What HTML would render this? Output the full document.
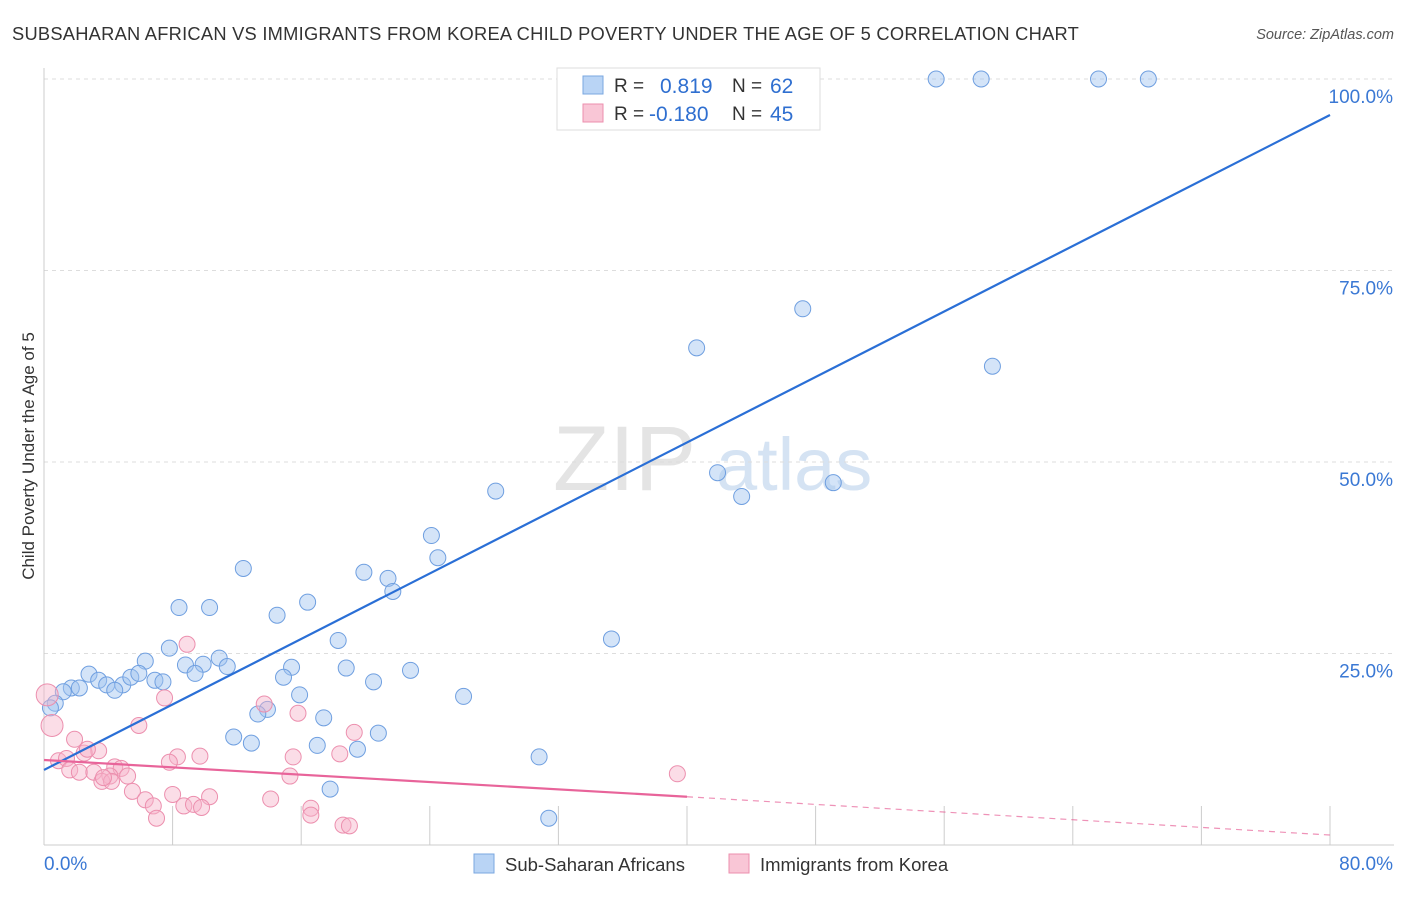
<!DOCTYPE html>
<html><head><meta charset="utf-8">
<style>
body{margin:0;background:#fff;font-family:"Liberation Sans",sans-serif;}
svg text{font-family:"Liberation Sans",sans-serif;}
</style></head>
<body>
<svg id="chart" width="1406" height="892" xmlns="http://www.w3.org/2000/svg">
<text x="12" y="40" font-size="18.3" fill="#333" letter-spacing="0.25">SUBSAHARAN AFRICAN VS IMMIGRANTS FROM KOREA CHILD POVERTY UNDER THE AGE OF 5 CORRELATION CHART</text>
<text x="1394" y="39" font-size="14.5" fill="#555" text-anchor="end" font-style="italic">Source: ZipAtlas.com</text>
<text transform="translate(34,456) rotate(-90)" font-size="17" fill="#333" text-anchor="middle">Child Poverty Under the Age of 5</text>
<g>
<text x="553" y="490" font-size="92" fill="#e4e4e4" font-family="Liberation Serif" >ZIP</text>
<text x="716" y="490" font-size="74" fill="#d5e3f3">atlas</text>
</g>
<g id="grid"></g><g id="marks"></g>
<g>
<rect x="557" y="68" width="263" height="62" fill="#fff" stroke="#ddd"/>
<rect x="583" y="76" width="20" height="18" fill="#b9d4f5" stroke="#7aa7e0"/>
<rect x="583" y="104" width="20" height="18" fill="#f9c6d6" stroke="#ec8fae"/>
<text x="614" y="92" font-size="19" fill="#333">R = </text><text x="660" y="93" font-size="21" fill="#2f6fd0">0.819</text>
<text x="732" y="92" font-size="19" fill="#333">N = </text><text x="770" y="93" font-size="21" fill="#2f6fd0">62</text>
<text x="614" y="120" font-size="19" fill="#333">R = </text><text x="649" y="121" font-size="21" fill="#2f6fd0">-0.180</text>
<text x="732" y="120" font-size="19" fill="#333">N = </text><text x="770" y="121" font-size="21" fill="#2f6fd0">45</text>
</g>
<g>
<rect x="474" y="854" width="20" height="19" fill="#b9d4f5" stroke="#7aa7e0"/>
<text x="505" y="871" font-size="18.5" fill="#333">Sub-Saharan Africans</text>
<rect x="729" y="854" width="20" height="19" fill="#f9c6d6" stroke="#ec8fae"/>
<text x="760" y="871" font-size="18.5" fill="#333">Immigrants from Korea</text>
</g>
<text x="44" y="870" font-size="19" fill="#3a78d4">0.0%</text>
<text x="1393" y="870" font-size="19" fill="#3a78d4" text-anchor="end">80.0%</text>
</svg>
<script>
const yTicks=[25,50,75,100];
const yTickLabels=["25.0%","50.0%","75.0%","100.0%"];
const xTicks=[8,16,24,32,40,48,56,64,72,80];
const blueX=[55.5,58.3,65.6,68.7,47.2,40.6,59.0,41.9,43.4,49.1,28.1,24.1,24.5,12.4,19.9,21.4,21.7,8.4,10.3,16.4,14.5,35.3,18.3,7.8,6.3,10.9,11.4,8.8,9.9,9.4,15.4,18.8,22.8,2.8,1.7,2.2,3.4,3.9,4.9,4.4,5.4,5.9,6.9,7.4,1.2,14.9,20.5,15.9,26.1,0.7,0.4,13.9,13.3,17.4,20.8,11.8,12.9,17.0,19.5,30.8,17.8,31.4];
const blueY=[100,100,100,100,70.0,64.9,62.5,48.6,45.5,47.3,46.2,40.4,37.5,36.1,35.6,34.8,33.1,31.0,31.0,31.7,30.0,26.9,26.7,25.7,24.0,24.4,23.3,23.5,23.6,22.4,23.2,23.1,22.8,22.3,20.5,20.5,21.5,20.9,20.9,20.2,21.9,22.4,21.5,21.3,20.0,21.9,21.3,19.6,19.4,18.5,17.9,17.7,17.1,16.6,14.6,14.1,13.3,13.0,12.5,11.5,7.3,3.5];
const pinkX=[0.2,0.5,8.9,7.5,5.9,13.7,15.8,19.3,1.9,3.4,0.9,1.4,2.5,2.7,1.6,2.2,3.1,4.4,4.8,4.1,5.2,3.6,4.2,9.7,8.3,7.8,15.5,18.4,15.3,39.4,5.5,8.0,10.3,6.3,6.8,8.7,9.3,9.8,14.1,16.6,16.6,7.0,18.6,19.0,3.7];
const pinkY=[19.6,15.6,26.2,19.2,15.6,18.4,17.2,14.7,13.8,12.3,11.0,11.3,12.0,12.5,9.8,9.5,9.5,10.2,10.0,9.0,9.0,8.3,8.3,11.6,11.5,10.8,11.5,11.9,9.0,9.3,7.0,6.6,6.3,5.9,5.1,5.1,5.3,4.9,6.0,4.8,3.9,3.5,2.6,2.5,8.8];
const blueFit=[9.8,95.3];
const pinkFit=[11.1,6.3,1.3];
const NS="http://www.w3.org/2000/svg";
const X=v=>44+v*(1330-44)/80, Y=v=>845-v*(845-79)/100;
const grid=document.getElementById('grid'), marks=document.getElementById('marks');
function mk(tag,attrs,parent){const e=document.createElementNS(NS,tag);for(const k in attrs)e.setAttribute(k,attrs[k]);parent.appendChild(e);return e;}
yTicks.forEach((t,i)=>{
 const l=mk('line',{x1:44,x2:1394,y1:Y(t),y2:Y(t),stroke:'#ddd','stroke-dasharray':'4,4'},grid);
 
 
 const tx=mk('text',{x:1393,y:Y(t)+24,'font-size':19,fill:'#3a78d4','text-anchor':'end'},grid);
 tx.textContent=yTickLabels[i];
 
 
});
const ax=mk('line',{x1:44,x2:1394,y1:845,y2:845,stroke:'#ccc'},grid);


const ay=mk('line',{x1:44,x2:44,y1:68,y2:845,stroke:'#ccc'},grid);


xTicks.forEach(t=>{
 const l=mk('line',{x1:X(t),x2:X(t),y1:806,y2:845,stroke:'#ccc'},grid);
 
 
});
blueX.forEach((x,i)=>{
 const c=mk('circle',{cx:X(x),cy:Y(blueY[i]),r:8,fill:'rgba(160,196,240,0.45)',stroke:'#6f9fe0','stroke-width':1},marks);
 
 
});
pinkX.forEach((x,i)=>{
 const c=mk('circle',{cx:X(x),cy:Y(pinkY[i]),r:i<2?11:8,fill:'rgba(247,180,202,0.45)',stroke:'#ec8fae','stroke-width':1},marks);
 
 
});
const bl=mk('line',{x1:X(0),y1:Y(blueFit[0]),x2:X(80),y2:Y(blueFit[1]),stroke:'#2a6fd6','stroke-width':2.2},marks);


const pl=mk('line',{x1:X(0),y1:Y(pinkFit[0]),x2:X(40),y2:Y(pinkFit[1]),stroke:'#e8649a','stroke-width':2.2},marks);


const pd=mk('line',{x1:X(40),y1:Y(pinkFit[1]),x2:X(80),y2:Y(pinkFit[2]),stroke:'#e8649a','stroke-width':1.2,'stroke-dasharray':'6,5',opacity:0.7},marks);


</script>
</body></html>
